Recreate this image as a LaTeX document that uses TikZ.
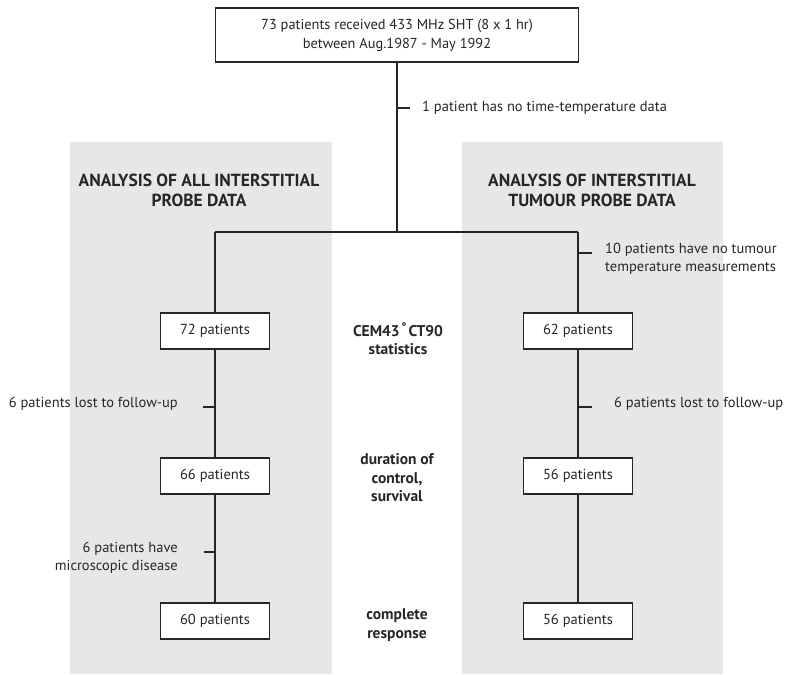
\documentclass[tikz,border=0pt]{standalone}
\usepackage{fontspec}
\setmainfont{PT Sans}
\begin{document}
\begin{tikzpicture}[x=1pt,y=-1pt,
  line/.style={line width=1.4pt,draw=black!85},
  pbox/.style={draw=black!85,line width=1.4pt,fill=white,minimum width=109pt,minimum height=36pt,inner sep=0pt,font=\fontsize{14.5}{16}\selectfont,text=black!85},
  note/.style={font=\fontsize{14.5}{18}\selectfont,inner sep=0pt,text=black!85},
  head/.style={font=\bfseries\fontsize{17.5}{20}\selectfont,align=center,inner sep=0pt,text=black!85},
  mid/.style={font=\bfseries\fontsize{15.5}{18.5}\selectfont,align=center,inner sep=0pt,text=black!85}]
\definecolor{panelgray}{RGB}{230,231,232}
\useasboundingbox (0,0) rectangle (794,674);
\fill[panelgray] (70,142) rectangle (332,674);
\fill[panelgray] (462,142) rectangle (723,674);
% top box
\node[draw=black!85,line width=1.4pt,fill=white,minimum width=363pt,minimum height=54pt,align=center,inner sep=0pt,text=black!85,font=\fontsize{14.4}{19}\selectfont] (top) at (397,35) {73 patients received 433 MHz SHT (8 x 1 hr)\\between Aug.1987 - May 1992};
% headings
\node[head] (hl) at (199,190) {ANALYSIS OF ALL INTERSTITIAL\\PROBE DATA};
\node[head] (hr) at (592,190) {ANALYSIS OF INTERSTITIAL\\TUMOUR PROBE DATA};
% boxes
\node[pbox] (b72) at (215,331) {72 patients};
\node[pbox] (b66) at (215,476) {66 patients};
\node[pbox] (b60) at (215,621) {60 patients};
\node[pbox] (b62) at (578,331) {62 patients};
\node[pbox] (b56a) at (578,476) {56 patients};
\node[pbox] (b56b) at (578,621) {56 patients};
% middle labels
\node[mid] (m1) at (398,339) {CEM43\textsuperscript{\,\textdegree\,}CT90\\statistics};
\node[mid] (m2) at (397,478) {duration of\\control,\\survival};
\node[mid] (m3) at (397,625) {complete\\response};
% connectors
\coordinate (jc) at (397,232);
\coordinate (jl) at (215,232);
\coordinate (jr) at (578,232);
\draw[line] (top.south) -- (jc);
\draw[line] (jl) -- (jr);
\draw[line] (jl) -- (b72.north);
\draw[line] (jr) -- (b62.north);
\draw[line] (b72) -- (b66);
\draw[line] (b66) -- (b60);
\draw[line] (b62) -- (b56a);
\draw[line] (b56a) -- (b56b);
% ticks
\coordinate (t1) at (397,108);
\coordinate (t1e) at (410,108);
\draw[line] (t1) -- (t1e);
\node[note,anchor=west] (n1) at (422,108) {1 patient has no time-temperature data};
\coordinate (t2) at (578,253);
\coordinate (t2e) at (592,253);
\draw[line] (t2) -- (t2e);
\node[note,anchor=west,align=left] (n2) at (605,259) {10 patients have no tumour\\temperature measurements};
\coordinate (t3) at (215,407);
\coordinate (t3e) at (203,407);
\draw[line] (t3) -- (t3e);
\node[note,anchor=east] (n3) at (178,404) {6 patients lost to follow-up};
\coordinate (t4) at (578,407);
\coordinate (t4e) at (592,407);
\draw[line] (t4) -- (t4e);
\node[note,anchor=west] (n4) at (614,404) {6 patients lost to follow-up};
\coordinate (t5) at (215,552);
\coordinate (t5e) at (204,552);
\draw[line] (t5) -- (t5e);
\node[note,anchor=east,align=right] (n5) at (178,558) {6 patients have\\microscopic disease};
\end{tikzpicture}
\end{document}
